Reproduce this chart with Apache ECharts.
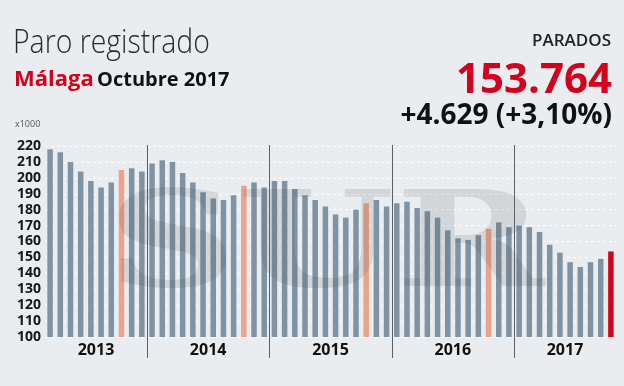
<!DOCTYPE html>
<html>
<head>
<meta charset="utf-8">
<script src="https://cdn.jsdelivr.net/npm/echarts@6/dist/echarts.min.js"></script>
<style>
html,body{margin:0;padding:0;background:#e9edf0;}
#c{width:624px;height:386px;}
</style>
</head>
<body>
<div id="c"></div>
<script>
var years = ['2013', '2014', '2015', '2016', '2017'];
var monthNames = ['ene','feb','mar','abr','may','jun','jul','ago','sep','oct','nov','dic'];
var firstMonth = [2, 0, 0, 0, 0];
var v2013 = [218, 216, 210, 204, 198, 194, 197, 205, 206, 204];
var v2014 = [209, 211, 210, 203, 197, 191, 187, 186, 189, 195, 197, 194];
var v2015 = [198, 198, 193, 189, 186, 182, 177, 175, 180, 184, 186, 182];
var v2016 = [184, 185, 181, 179, 175, 167, 162, 161, 164, 168, 172, 169];
var v2017 = [170, 169, 166, 158, 153, 147, 144, 147, 149.135, 153.764];
var yTicks = [100, 110, 120, 130, 140, 150, 160, 170, 180, 190, 200, 210, 220];

var yearValues = [v2013, v2014, v2015, v2016, v2017];
var categories = [];
var values = [];
var yearStart = [];
yearValues.forEach(function (arr, yi) {
  yearStart.push(categories.length);
  arr.forEach(function (v, i) {
    categories.push(monthNames[firstMonth[yi] + i] + ' ' + years[yi]);
    values.push(v);
  });
});
var total = categories.length;

var GREY = '#7f93a2', ORANGE = '#eba48b', RED = '#d2021c';
var barData = values.map(function (v, i) {
  var c = GREY;
  if (i === total - 1) c = RED;
  else if (categories[i].indexOf('oct') === 0) c = ORANGE;
  return { value: v, itemStyle: { color: c } };
});

var chart = echarts.init(document.getElementById('c'));
var option = {
  backgroundColor: '#e9edf0',
  animation: false,
  grid: { left: 45, right: 8, top: 146, bottom: 49, containLabel: false },
  xAxis: [
    { type: 'category', data: categories, boundaryGap: true,
      axisLine: { show: false }, axisTick: { show: false }, axisLabel: { show: false } },
    { type: 'value', min: 0, max: total, show: false }
  ],
  yAxis: {
    type: 'value', min: yTicks[0], max: yTicks[yTicks.length - 1], interval: 10,
    axisLine: { show: false }, axisTick: { show: false },
    axisLabel: { color: '#161616', fontFamily: 'Open Sans', fontWeight: 'bold', fontSize: 14, margin: 4 },
    splitLine: { show: true, lineStyle: { color: '#ffffff', type: [3, 3], width: 1, opacity: 0.9 } }
  },
  series: [{
    type: 'bar', data: barData, barCategoryGap: '46%', xAxisIndex: 0
  }]
};
chart.setOption(option);

var g = [];
for (var i = 0; i < years.length; i++) {
  var s = yearStart[i];
  var e = (i + 1 < years.length) ? yearStart[i + 1] : total;
  var xc = chart.convertToPixel({ xAxisIndex: 1 }, (s + e) / 2);
  g.push({ type: 'text', x: xc, y: 350, z: 10,
    style: { text: years[i], font: 'bold 16px "Open Sans"', fill: '#111', align: 'center', verticalAlign: 'middle' } });
  if (i > 0) {
    var xs = Math.round(chart.convertToPixel({ xAxisIndex: 1 }, s)) + 0.5;
    g.push({ type: 'line', z: 10, shape: { x1: xs, y1: 145, x2: xs, y2: 358 },
      style: { stroke: '#5b5f63', lineWidth: 1 } });
  }
}
// watermark
var wm = [['S', 172], ['U', 316], ['R', 470]];
wm.forEach(function (w) {
  g.push({ type: 'text', x: w[1], y: 251, scaleX: 1.35, z: 5,
    style: { text: w[0], font: 'bold 133px "DejaVu Serif"', fill: 'rgba(60,60,60,0.13)',
      align: 'center', verticalAlign: 'middle' } });
});
// titles
g.push({ type: 'text', x: 13, y: 27, scaleX: 0.86, style: { text: 'Paro registrado', font: '300 33px "Open Sans"', fill: '#2b2b2b' } });
g.push({ type: 'text', x: 14, y: 69, style: { text: 'Málaga', font: 'bold 22px "Open Sans"', fill: RED } });
g.push({ type: 'text', x: 97, y: 70, style: { text: 'Octubre 2017', font: 'bold 20px "Open Sans"', fill: '#111' } });
g.push({ type: 'text', x: 15, y: 120, style: { text: 'x1000', font: '9px "Open Sans"', fill: '#555' } });
g.push({ type: 'text', x: 611, y: 33, style: { text: 'PARADOS', font: '600 17px "Open Sans"', fill: '#222', align: 'right' } });
g.push({ type: 'text', x: 612, y: 60, style: { text: '153.764', font: 'bold 42px "Open Sans"', fill: RED, align: 'right' } });
g.push({ type: 'text', x: 612, y: 102, style: { text: '+4.629 (+3,10%)', font: 'bold 28px "Open Sans"', fill: '#111', align: 'right' } });

chart.setOption({ graphic: g });
</script>
</body>
</html>
